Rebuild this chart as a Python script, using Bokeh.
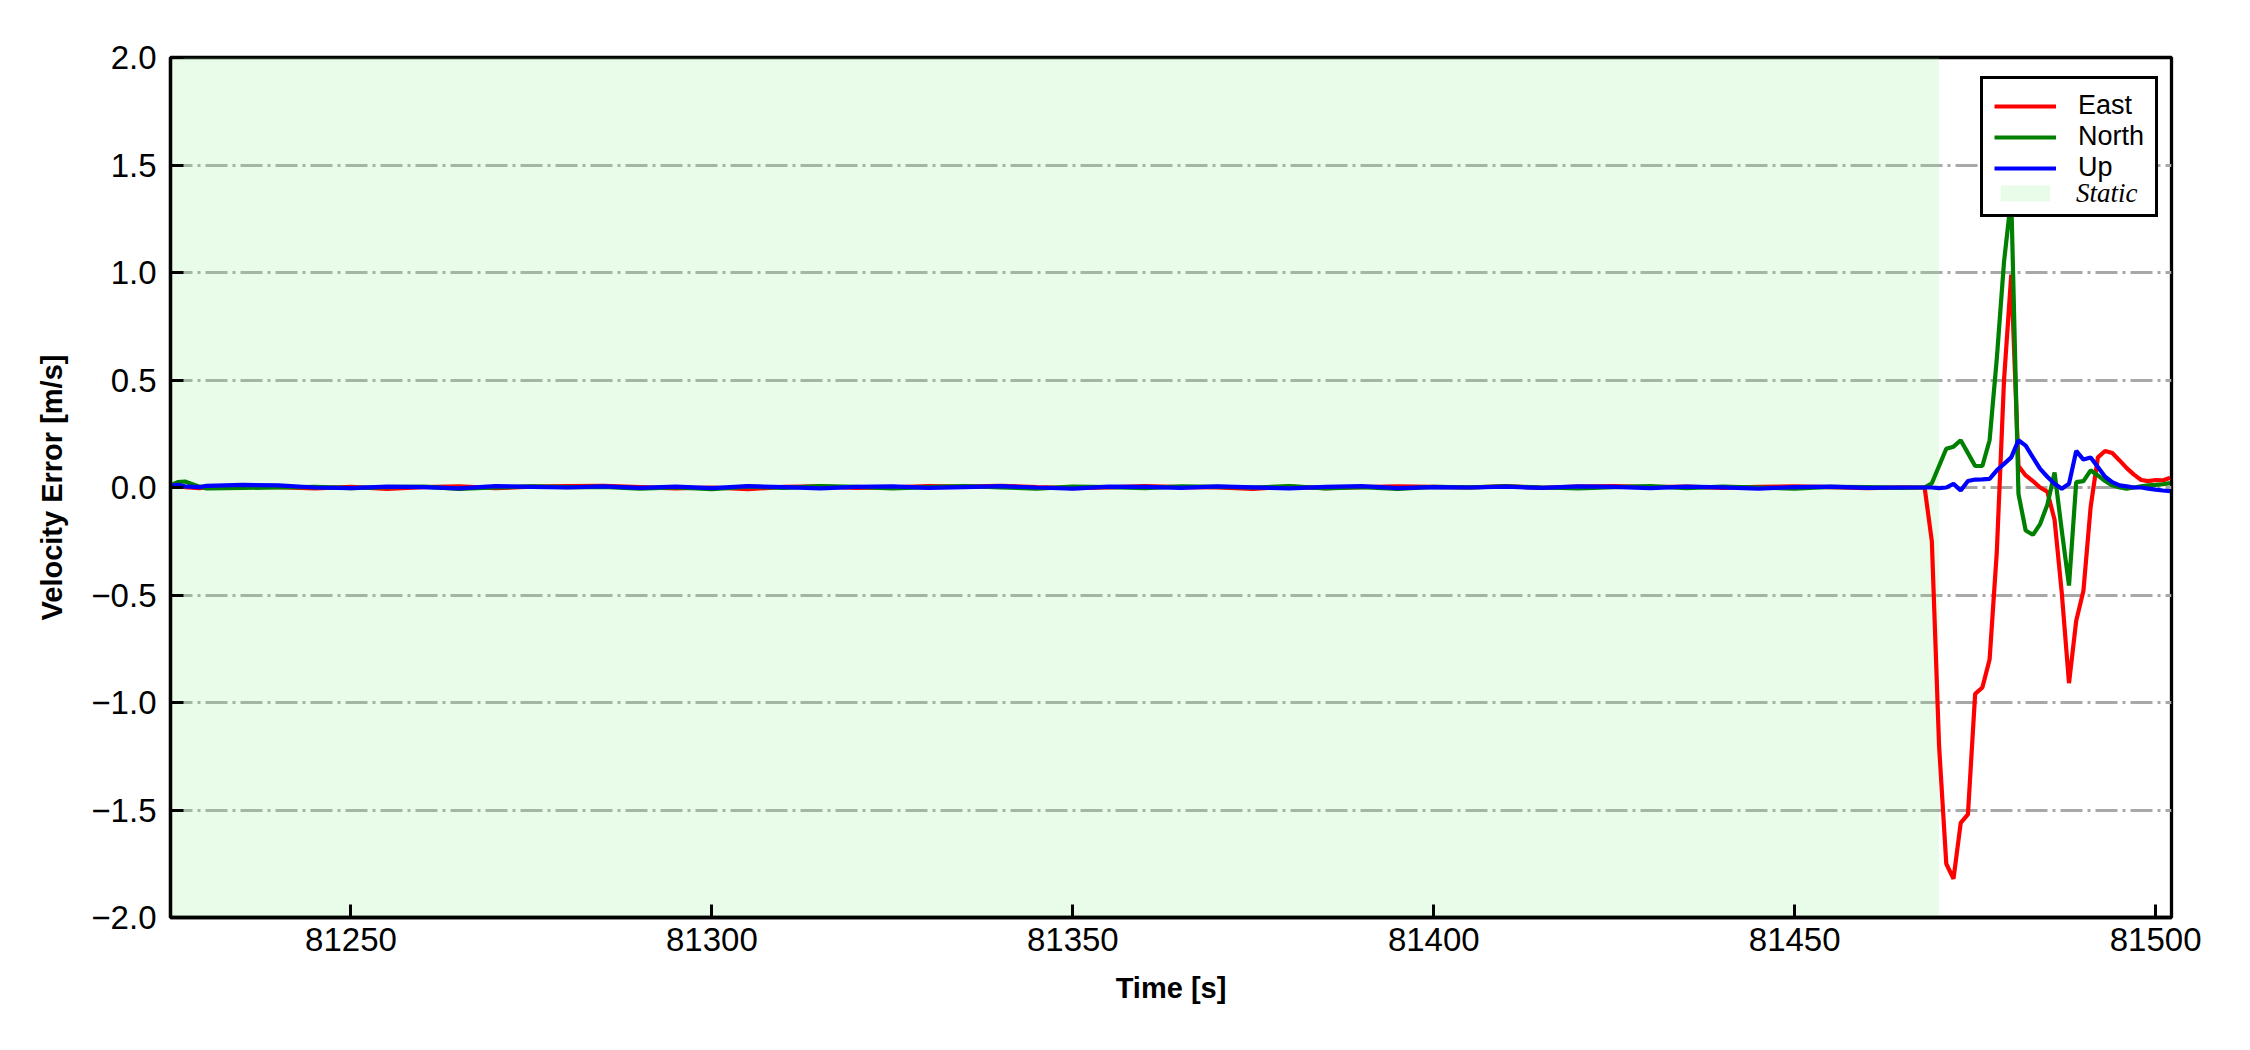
from bokeh.plotting import figure
from bokeh.models import (Range1d, FixedTicker, CustomJSTickFormatter, Legend,
                          LegendItem)
from bokeh.embed import file_html
from bokeh.resources import INLINE

# ---------------- data ----------------
time_s = [81225, 81226, 81227, 81229,
          81230, 81235, 81240, 81245, 81250, 81255, 81260, 81265, 81270, 81275,
          81280, 81285, 81290, 81295, 81300, 81305, 81310, 81315, 81320, 81325,
          81330, 81335, 81340, 81345, 81350, 81355, 81360, 81365, 81370, 81375,
          81380, 81385, 81390, 81395, 81400, 81405, 81410, 81415, 81420, 81425,
          81430, 81435, 81440, 81445, 81450, 81455, 81460, 81465, 81467,
          81468, 81469, 81470, 81471, 81472, 81473, 81474, 81475, 81476, 81477,
          81478, 81479, 81480, 81481, 81482, 81483, 81484, 81485, 81486, 81487,
          81488, 81489, 81490, 81491, 81492, 81493, 81494, 81495, 81496, 81497,
          81498, 81499, 81500, 81501, 81502]

east = [0.004, 0.010, 0.002, -0.003, 0.000, 0.004, 0.002, -0.004, 0.003, -0.006,
        0.002, 0.005, -0.003, 0.004, 0.006, 0.008, 0.002, -0.004, 0.000, -0.008,
        0.003, 0.005, -0.002, 0.001, 0.006, 0.004, 0.008, 0.002, -0.003, 0.001,
        0.006, 0.002, 0.000, -0.006, 0.004, -0.003, 0.002, 0.005, 0.003, 0.000,
        0.006, -0.002, 0.004, 0.007, 0.002, 0.004, -0.002, 0.003, 0.005, 0.002,
        -0.003, 0.001, 0.000,
        0.000, -0.25, -1.20, -1.75, -1.82, -1.56, -1.52, -0.96, -0.93, -0.80,
        -0.30, 0.50, 0.99, 0.10, 0.056, 0.030, 0.000, -0.020, -0.15, -0.49,
        -0.91, -0.62, -0.48, -0.09, 0.14, 0.17, 0.16, 0.126, 0.090, 0.060,
        0.035, 0.030, 0.035, 0.033, 0.045]

north = [0.010, 0.025, 0.028, 0.004, -0.004, -0.002, 0.000, 0.003, -0.003, 0.002,
         0.004, -0.006, 0.000, 0.005, 0.002, 0.003, -0.005, 0.000, -0.008, 0.004,
         -0.002, 0.006, 0.003, -0.004, 0.002, 0.007, 0.000, -0.005, 0.004, 0.002,
         -0.003, 0.005, 0.003, 0.000, 0.006, -0.004, 0.002, -0.006, 0.003, 0.001,
         0.005, 0.000, -0.004, 0.002, 0.006, -0.003, 0.004, 0.000, -0.005, 0.003,
         0.002, -0.002, 0.000,
         0.000, 0.020, 0.100, 0.180, 0.190, 0.220, 0.160, 0.100, 0.100, 0.220,
         0.600, 1.050, 1.350, -0.030, -0.200, -0.220, -0.170, -0.080, 0.070, -0.200,
         -0.456, 0.025, 0.030, 0.080, 0.056, 0.030, 0.010, 0.000, -0.005, 0.000,
         0.005, 0.010, 0.012, 0.015, 0.020]

up = [0.008, 0.012, 0.005, 0.002, 0.008, 0.012, 0.010, 0.000, -0.003, 0.004,
      0.002, -0.004, 0.006, 0.003, 0.000, 0.005, -0.002, 0.004, -0.003, 0.006,
      0.002, -0.004, 0.003, 0.005, -0.002, 0.002, 0.006, 0.000, -0.005, 0.004,
      0.003, -0.002, 0.005, 0.001, -0.004, 0.003, 0.006, -0.003, 0.002, 0.000,
      0.004, -0.002, 0.005, 0.003, -0.003, 0.004, 0.001, -0.005, 0.002, 0.004,
      -0.002, 0.000, 0.000,
      0.000, 0.000, -0.003, 0.000, 0.017, -0.014, 0.030, 0.037, 0.038, 0.040,
      0.080, 0.110, 0.140, 0.220, 0.195, 0.140, 0.087, 0.050, 0.017, -0.006,
      0.017, 0.170, 0.130, 0.140, 0.095, 0.050, 0.025, 0.010, 0.005, 0.000,
      0.000, -0.005, -0.010, -0.014, -0.017]

static_start = [81225]
static_end = [81470]

x_ticks = [81250, 81300, 81350, 81400, 81450, 81500]
y_ticks = [-2.0, -1.5, -1.0, -0.5, 0.0, 0.5, 1.0, 1.5, 2.0]
x_limits = (81225, 81502.2)
y_limits = (-2.0, 2.0)

series_names = ["East", "North", "Up"]
series_colors = ["red", "green", "blue"]

# ---------------- figure ----------------
FONT = "Liberation Sans"

p = figure(width=2234, height=1034, output_backend="svg", toolbar_location=None,
           x_range=Range1d(*x_limits), y_range=Range1d(*y_limits),
           min_border_left=170, min_border_right=63,
           min_border_top=57, min_border_bottom=117,
           background_fill_color="white", border_fill_color="white")

p.outline_line_color = "black"
p.outline_line_width = 3.3
p.outline_line_alpha = 1.0

# static shading
r_static = p.quad(left=static_start, right=static_end,
                  bottom=[y_limits[0]], top=[y_limits[1]],
                  fill_color="lightgreen", fill_alpha=0.2, line_color=None)

renderers = []
for name, col, vals in zip(series_names, series_colors, [east, north, up]):
    r = p.line(time_s, vals, line_color=col, line_width=4.2)
    renderers.append(r)

# invisible renderer used only to carry the italic "Static" legend label
r_dummy = p.line(time_s[:1], east[:1], line_alpha=0.0)

# grid
p.xgrid.visible = False
p.ygrid.ticker = FixedTicker(ticks=y_ticks)
p.ygrid.grid_line_color = "#a8a8a8"
p.ygrid.grid_line_width = 3
p.ygrid.grid_line_dash = "22 5 3 5"

# axes
p.xaxis.ticker = FixedTicker(ticks=x_ticks)
p.yaxis.ticker = FixedTicker(ticks=y_ticks)
p.xaxis.formatter = CustomJSTickFormatter(code="return tick.toFixed(0);")
p.yaxis.formatter = CustomJSTickFormatter(
    code="return (tick < 0 ? '\u2212' : '') + Math.abs(tick).toFixed(1);")

for ax in (p.xaxis[0], p.yaxis[0]):
    ax.axis_line_color = "black"
    ax.axis_line_width = 3.3
    ax.major_tick_in = 13
    ax.major_tick_out = 0
    ax.major_tick_line_width = 3
    ax.major_tick_line_color = "black"
    ax.minor_tick_line_color = None
    ax.major_label_text_font = FONT
    ax.major_label_text_font_size = "33px"
    ax.major_label_text_color = "black"
    ax.axis_label_text_font = FONT
    ax.axis_label_text_font_size = "29px"
    ax.axis_label_text_font_style = "bold"
    ax.axis_label_text_color = "black"

p.xaxis.axis_label = "Time [s]"
p.yaxis.axis_label = "Velocity Error [m/s]"
p.xaxis.major_label_standoff = 10
p.yaxis.major_label_standoff = 14
p.xaxis.axis_label_standoff = 18
p.yaxis.axis_label_standoff = 20

# legend (lines + static patch)
items = [LegendItem(label=n, renderers=[r]) for n, r in zip(series_names, renderers)]
items.append(LegendItem(label=" ", renderers=[r_static]))
legend = Legend(items=items, location=(1810, 700),
                border_line_color="black", border_line_width=3.3,
                border_line_alpha=1.0,
                background_fill_color="white", background_fill_alpha=1.0,
                padding=11, spacing=0, margin=0,
                glyph_width=62, glyph_height=20, label_standoff=22,
                label_height=20,
                label_text_font=FONT, label_text_font_size="27px",
                label_text_color="black")
p.add_layout(legend, "center")

# italic serif label for the static item, overlaid on the last legend row
legend_static = Legend(items=[LegendItem(label="Static", renderers=[r_dummy])],
                       location=(1822, 708),
                       border_line_color=None,
                       background_fill_alpha=0.0,
                       padding=10, spacing=0, margin=0,
                       glyph_width=62, glyph_height=20, label_standoff=22,
                       label_height=20,
                       label_text_font="Liberation Serif",
                       label_text_font_style="italic",
                       label_text_font_size="27px",
                       label_text_color="black")
p.add_layout(legend_static, "center")

open("out.html", "w").write(file_html(p, INLINE))
